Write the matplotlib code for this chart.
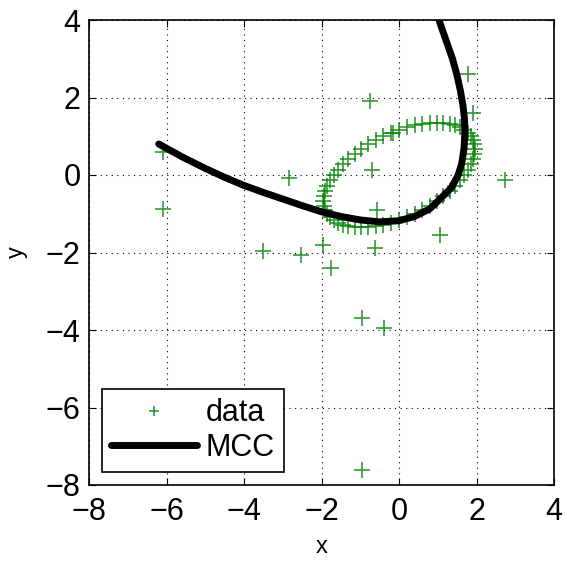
import matplotlib
matplotlib.use("Agg")
import matplotlib.pyplot as plt

plt.rcParams['font.family'] = ['Liberation Sans', 'DejaVu Sans']

# ellipse-shaped cloud of data points
ell_x = [1.95, 1.939, 1.907, 1.855, 1.781, 1.689, 1.578, 1.449, 1.305, 1.146,
         0.975, 0.793, 0.603, 0.405, 0.204, 0.0, -0.204, -0.405, -0.603, -0.793,
         -0.975, -1.146, -1.305, -1.449, -1.578, -1.689, -1.781, -1.855, -1.907, -1.939,
         -1.95, -1.939, -1.907, -1.855, -1.781, -1.689, -1.578, -1.449, -1.305, -1.146,
         -0.975, -0.793, -0.603, -0.405, -0.204, 0.0, 0.204, 0.405, 0.603, 0.793,
         0.975, 1.146, 1.305, 1.449, 1.578, 1.689, 1.781, 1.855, 1.907, 1.939]
ell_y = [0.675, 0.794, 0.903, 1.003, 1.092, 1.169, 1.233, 1.284, 1.320, 1.343,
         1.35, 1.343, 1.320, 1.284, 1.233, 1.169, 1.092, 1.003, 0.903, 0.794,
         0.675, 0.549, 0.417, 0.281, 0.141, 0.0, -0.141, -0.281, -0.417, -0.549,
         -0.675, -0.794, -0.903, -1.003, -1.092, -1.169, -1.233, -1.284, -1.320, -1.343,
         -1.35, -1.343, -1.320, -1.284, -1.233, -1.169, -1.092, -1.003, -0.903, -0.794,
         -0.675, -0.549, -0.417, -0.281, -0.141, 0.0, 0.141, 0.281, 0.417, 0.549]

# scattered outliers
out_x = [-6.1, -6.1, -2.85, -3.5, -2.53, -1.96, -1.76, -0.75, -0.7, -0.57,
         -0.62, 1.06, 1.78, 1.92, 2.74, -0.96, -0.39, -0.96, -0.15]
out_y = [0.6, -0.88, -0.08, -1.96, -2.06, -1.8, -2.4, 1.92, 0.13, -0.9,
         -1.88, -1.55, 2.6, 1.6, -0.13, -3.69, -3.95, -7.62, 1.08]

# MCC curve
mcc_x = [-6.2, -5.6, -5.0, -4.5, -4.0, -3.5, -3.0, -2.5, -2.0, -1.5, -1.0, -0.5,
         0.0, 0.4, 0.8, 1.1, 1.35, 1.52, 1.62, 1.68, 1.7, 1.69, 1.65, 1.58, 1.49,
         1.38, 1.24, 1.1, 1.0]
mcc_y = [0.8, 0.47, 0.17, -0.06, -0.27, -0.45, -0.62, -0.79, -0.95, -1.07, -1.16, -1.21,
         -1.18, -1.07, -0.87, -0.58, -0.33, -0.02, 0.3, 0.7, 1.1, 1.45, 1.8, 2.2, 2.6,
         3.0, 3.4, 3.8, 4.1]

data_x = ell_x + out_x
data_y = ell_y + out_y

fig = plt.figure(figsize=(5.67, 5.64), dpi=100)
ax = fig.add_axes([89/567, 79/564, 465/567, 465/564])

green = (0, 0.5, 0)
ax.plot(data_x, data_y, '+', color=green, markersize=12, markeredgewidth=1.2,
        alpha=0.8, label='data')
ax.plot(mcc_x, mcc_y, '-', color='black', linewidth=5, label='MCC',
        solid_capstyle='round', solid_joinstyle='round')

ax.set_xlim(-8, 4)
ax.set_ylim(-8, 4)
ticks = [-8, -6, -4, -2, 0, 2, 4]
tick_labels = ['\u22128', '\u22126', '\u22124', '\u22122', '0', '2', '4']
ax.set_xticks(ticks)
ax.set_yticks(ticks)
ax.set_xticklabels(tick_labels)
ax.set_yticklabels(tick_labels)
ax.tick_params(direction='in', top=True, right=True, labelsize=22, length=5,
               width=0.8)
ax.tick_params(axis='x', pad=9)
ax.tick_params(axis='y', pad=6)
ax.grid(True, linestyle=(0, (1, 4)), color='black', linewidth=0.8)
for s in ax.spines.values():
    s.set_linewidth(1.2)
ax.set_xlabel('x', fontsize=17, labelpad=6)
ax.set_ylabel('y', fontsize=17, labelpad=13)

leg = ax.legend(loc='lower left', fontsize=22, fancybox=False, framealpha=1,
                edgecolor='black', handlelength=2.8, borderpad=0.3,
                handletextpad=0.3, labelspacing=0.15, borderaxespad=0.42,
                markerscale=0.6)
leg.get_frame().set_linewidth(1.2)

fig.savefig('out.png', dpi=100)
